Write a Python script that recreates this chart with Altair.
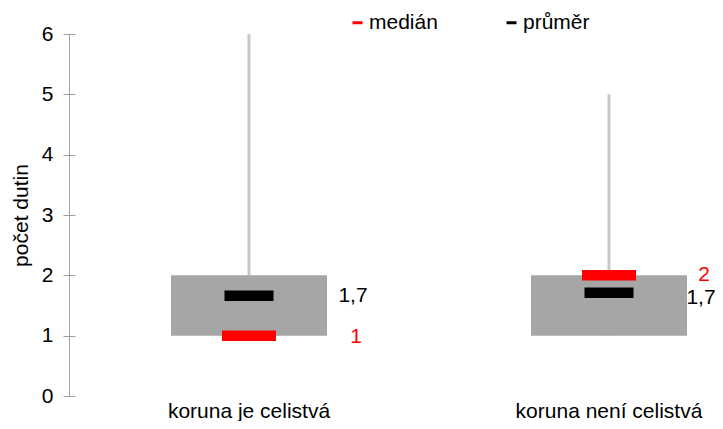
import altair as alt
import pandas as pd

categories = ["koruna je celistvá", "koruna není celistvá"]
q1 = [1, 1]
q3 = [2, 2]
whisker_min = [1, 1]
whisker_max = [6, 5]
medians = [1, 2]
means = [1.66, 1.71]
median_labels = ["1", "2"]
mean_labels = ["1,7", "1,7"]
stat_names = ["medián", "průměr"]
stat_colors = ["#ff0000", "#000000"]

box_df = pd.DataFrame({"cat": categories, "q1": q1, "q3": q3,
                       "lo": whisker_min, "hi": whisker_max})
stat_df = pd.DataFrame({
    "cat": categories * 2,
    "stat": [stat_names[0]] * 2 + [stat_names[1]] * 2,
    "value": medians + means,
    "label": median_labels + mean_labels,
})

FONT = "Liberation Sans"
FS = 21
AXIS_GRAY = "#a0a0a0"

x_enc = alt.X(
    "cat:N", sort=categories,
    scale=alt.Scale(domain=categories, range=[0, 720], paddingInner=0, paddingOuter=0),
    axis=alt.Axis(title=None, domain=False, ticks=False, labelAngle=0,
                  labelFontSize=FS, labelPadding=4, labelColor="#000000",
                  labelFont=FONT, labelLimit=400),
)
yscale = alt.Scale(domain=[0, 6], nice=False)
tick_vals = [0, 1, 2, 3, 4, 5, 6]

main_axis = alt.Axis(title="počet dutin", values=tick_vals, format="d", grid=False,
                     offset=-6, tickSize=12, tickColor=AXIS_GRAY, domain=False,
                     labelFontSize=FS, labelFont=FONT, labelColor="#000000",
                     labelPadding=10, titleFontSize=FS, titleFont=FONT,
                     titleFontWeight="normal", titleColor="#000000", titlePadding=10)

color_enc = alt.Color(
    "stat:N", scale=alt.Scale(domain=stat_names, range=stat_colors),
    legend=alt.Legend(orient="none", legendX=278, legendY=-22,
                      direction="horizontal", title=None,
                      symbolType="M-1,-0.3H1V0.3H-1Z", symbolSize=100,
                      symbolStrokeWidth=0, symbolOpacity=1,
                      labelFontSize=FS, labelFont=FONT, labelColor="#000000",
                      columnPadding=63, labelOffset=1, padding=0),
)

base_box = alt.Chart(box_df)

axis_line = base_box.mark_rule(color=AXIS_GRAY, strokeWidth=1).encode(
    x=alt.value(0.5),
    y=alt.Y(datum=tick_vals[0], scale=yscale, axis=main_axis),
    y2=alt.datum(tick_vals[-1]),
)
whisker = base_box.mark_rule(color="#c8c8c8", strokeWidth=3).encode(
    x=x_enc,
    y=alt.Y("lo:Q", scale=yscale, axis=main_axis),
    y2="hi:Q",
)
box = base_box.mark_bar(color="#a6a6a6", size=156).encode(
    x=x_enc,
    y=alt.Y("q1:Q", scale=yscale, axis=main_axis),
    y2="q3:Q",
)


def tick_layer(stat, length):
    return alt.Chart(stat_df).transform_filter(alt.datum.stat == stat).mark_tick(
        thickness=10.5, size=length, opacity=1).encode(
        x=x_enc,
        y=alt.Y("value:Q", scale=yscale, axis=main_axis),
        color=color_enc,
    )


def label_layer(cat, stat, color, dx, dy):
    return alt.Chart(stat_df).transform_filter(
        (alt.datum.cat == cat) & (alt.datum.stat == stat)
    ).mark_text(align="center", baseline="middle", dx=dx, dy=dy, fontSize=FS,
                font=FONT, color=color).encode(
        x=x_enc,
        y=alt.Y("value:Q", scale=yscale, axis=main_axis),
        text="label:N",
    )


labels = [
    label_layer(categories[0], stat_names[1], stat_colors[1], 104, 0),
    label_layer(categories[0], stat_names[0], stat_colors[0], 107, 1),
    label_layer(categories[1], stat_names[0], stat_colors[0], 95, 0),
    label_layer(categories[1], stat_names[1], stat_colors[1], 92, 5),
]

chart = alt.layer(axis_line, whisker, box,
                  tick_layer(stat_names[0], 54), tick_layer(stat_names[1], 49),
                  *labels).properties(
    width=646, height=362,
    padding={"left": 61, "top": 26, "right": 0, "bottom": 25},
    autosize=alt.AutoSizeParams(type="none"),
).configure_view(stroke=None)

chart.save("out.html", embed_options={"renderer": "svg", "actions": False})
